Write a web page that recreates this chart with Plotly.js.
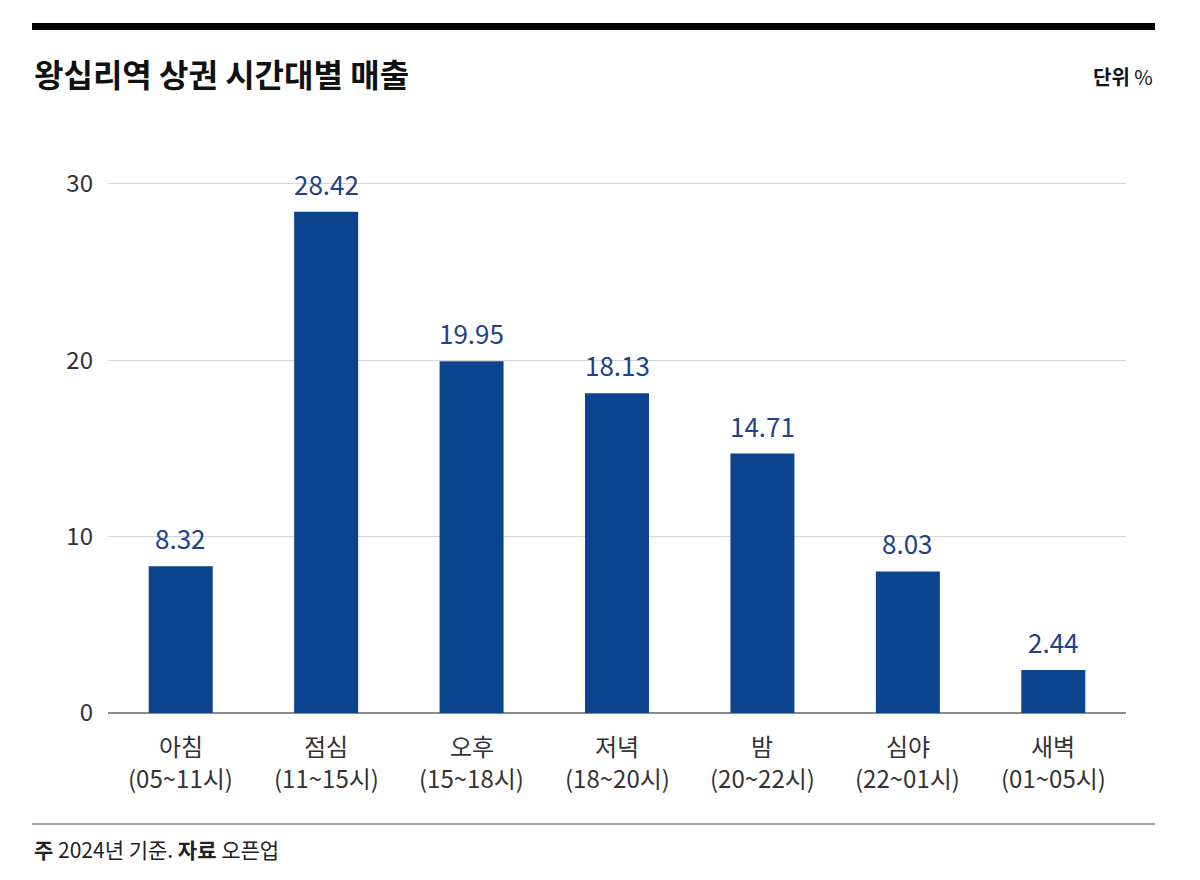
<!DOCTYPE html>
<html>
<head>
<meta charset="utf-8">
<script src="https://cdn.plot.ly/plotly-3.0.1.min.js"></script>
<style>
  html, body { margin: 0; padding: 0; background: #fff; }
  #plot { width: 1200px; height: 880px; }
</style>
</head>
<body>
<div id="plot"></div>
<script>
// ======================= DATA =======================
const periods = ['아침', '점심', '오후', '저녁', '밤', '심야', '새벽'];
const hours = ['(05~11시)', '(11~15시)', '(15~18시)', '(18~20시)', '(20~22시)', '(22~01시)', '(01~05시)'];
const sales = [8.32, 28.42, 19.95, 18.13, 14.71, 8.03, 2.44];
const yTicks = [0, 10, 20, 30];

// ======================= PLOT =======================
const font = '"Noto Sans CJK KR", "Noto Sans", sans-serif';
const PH = 582; // plot height in px, used for paper offsets

const trace = {
  type: 'bar',
  x: periods,
  y: sales,
  marker: { color: '#0b438d' },
  hoverinfo: 'none'
};

// value labels above bars
const valueNotes = sales.map((v, i) => ({
  xref: 'x', yref: 'y', x: periods[i], y: v,
  xanchor: 'center', yanchor: 'bottom', yshift: 8, showarrow: false,
  text: v.toFixed(2),
  font: { family: font, size: 26, color: '#1d428a' }
}));

// two-line category labels under the axis
const catNotes = [];
periods.forEach((p, i) => {
  catNotes.push({ xref: 'x', yref: 'paper', x: p, y: -32 / PH,
    xanchor: 'center', yanchor: 'middle', showarrow: false,
    text: p, font: { family: font, size: 24, color: '#333' } });
  catNotes.push({ xref: 'x', yref: 'paper', x: p, y: -64 / PH,
    xanchor: 'center', yanchor: 'middle', showarrow: false,
    text: hours[i], font: { family: font, size: 24, color: '#333' } });
});

const layout = {
  width: 1200,
  height: 880,
  margin: { l: 108, r: 74, t: 131, b: 167 },
  paper_bgcolor: '#fff',
  plot_bgcolor: '#fff',
  showlegend: false,
  bargap: 0.56,
  font: { family: font, color: '#333' },
  xaxis: {
    showticklabels: false,
    showgrid: false,
    showline: false,
    ticks: '',
    fixedrange: true
  },
  yaxis: {
    range: [0, 33],
    tickmode: 'array',
    tickvals: yTicks,
    tickfont: { family: font, size: 24, color: '#333' },
    showgrid: true,
    gridcolor: '#d4d4d4',
    gridwidth: 1,
    zeroline: true,
    zerolinecolor: '#8a8a8a',
    zerolinewidth: 1.5,
    showline: false,
    ticks: '',
    ticklabelstandoff: 14,
    fixedrange: true
  },
  shapes: [
    { type: 'rect', xref: 'paper', yref: 'paper', x0: -76 / 1018, x1: 1047 / 1018,
      y0: 1 + 101 / PH, y1: 1 + 108 / PH, fillcolor: '#000', line: { width: 0 } },
    { type: 'line', xref: 'paper', yref: 'paper', x0: -76 / 1018, x1: 1047 / 1018,
      y0: -111 / PH, y1: -111 / PH, line: { color: '#8a8a8a', width: 1.5 } }
  ],
  annotations: [
    { xref: 'paper', yref: 'paper', x: -76 / 1018, y: 1 + 58 / PH,
      xanchor: 'left', yanchor: 'middle', showarrow: false,
      text: '<b>왕십리역 상권 시간대별 매출</b>',
      font: { family: font, size: 32, color: '#111' } },
    { xref: 'paper', yref: 'paper', x: 1047 / 1018, y: 1 + 54 / PH,
      xanchor: 'right', yanchor: 'middle', showarrow: false,
      text: '<b>단위</b> %',
      font: { family: font, size: 20, color: '#111' } },
    { xref: 'paper', yref: 'paper', x: -76 / 1018, y: -136 / PH,
      xanchor: 'left', yanchor: 'middle', showarrow: false,
      text: '<b>주</b> 2024년 기준. <b>자료</b> 오픈업',
      font: { family: font, size: 21, color: '#222' } }
  ].concat(valueNotes, catNotes)
};

Plotly.newPlot('plot', [trace], layout, { displayModeBar: false, staticPlot: true });
</script>
</body>
</html>
